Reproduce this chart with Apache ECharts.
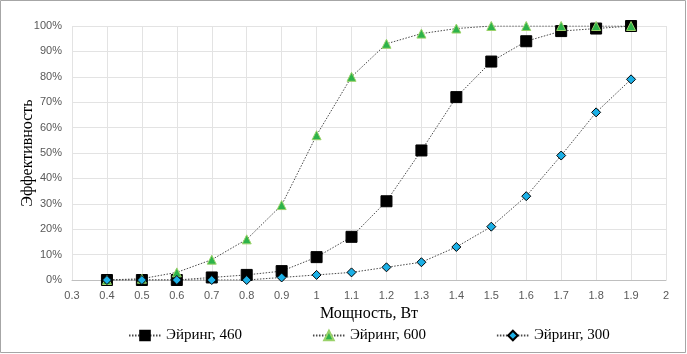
<!DOCTYPE html>
<html>
<head>
<meta charset="utf-8">
<script src="https://cdn.jsdelivr.net/npm/echarts@6/dist/echarts.min.js"></script>
<style>
  html, body { margin: 0; padding: 0; background: #fff; }
  #main { width: 687px; height: 354px; }
</style>
</head>
<body>
<div id="main"></div>
<script>
// мощность, Вт
var power = [0.4, 0.5, 0.6, 0.7, 0.8, 0.9, 1.0, 1.1, 1.2, 1.3, 1.4, 1.5, 1.6, 1.7, 1.8, 1.9];
// эффективность, %
var eyring460 = [0, 0, 0, 1, 2, 3.5, 9, 17, 31, 51, 72, 86, 94, 98, 99, 100];
var eyring600 = [0, 0.5, 3, 8, 16, 29.5, 57, 80, 93, 97, 99, 100, 100, 100, 100, 100];
var eyring300 = [0, 0, 0, 0, 0, 1, 2, 3, 5, 7, 13, 21, 33, 49, 66, 79];
var seriesNames = ['Эйринг, 460', 'Эйринг, 600', 'Эйринг, 300'];

function pairs(xs, ys) {
  return xs.map(function (x, i) { return [x, ys[i]]; });
}

var lineStyle = { color: '#4a4a4a', width: 1, type: [1.5, 1.5] };
var serif = '"Liberation Serif", "DejaVu Serif", serif';

var myChart = echarts.init(document.getElementById('main'));
myChart.setOption({
  animation: false,
  graphic: [{
    type: 'rect',
    shape: { x: 0.5, y: 0.5, width: 685, height: 352 },
    style: { fill: 'none', stroke: '#a6a6a6', lineWidth: 1 }
  }],
  grid: { left: 72, right: 21, top: 26, bottom: 74 },
  xAxis: {
    type: 'value',
    min: 0.3,
    max: 2,
    interval: 0.1,
    name: 'Мощность, Вт',
    nameLocation: 'middle',
    nameGap: 26,
    nameMoveOverlap: false,
    nameTextStyle: { fontFamily: serif, fontSize: 16, color: '#000' },
    axisLine: { show: true, lineStyle: { color: '#bfbfbf' } },
    axisTick: { show: false },
    axisLabel: {
      color: '#595959', fontSize: 11, fontFamily: 'Liberation Sans', margin: 10,
      formatter: function (v) { return String(Math.round(v * 10) / 10); }
    },
    splitLine: { show: true, lineStyle: { color: '#e3e3e3' } }
  },
  yAxis: {
    type: 'value',
    min: 0,
    max: 100,
    interval: 10,
    name: 'Эффективность',
    nameLocation: 'middle',
    nameGap: 36,
    nameMoveOverlap: false,
    nameTextStyle: { fontFamily: serif, fontSize: 16, color: '#000' },
    axisLine: { show: false },
    axisTick: { show: false },
    axisLabel: { color: '#595959', fontSize: 11, fontFamily: 'Liberation Sans', formatter: '{value}%', margin: 10 },
    splitLine: { show: true, lineStyle: { color: '#e3e3e3' } }
  },
  legend: {
    bottom: 6,
    left: 123,
    itemWidth: 32,
    itemHeight: 12,
    itemGap: 70,
    textStyle: { fontFamily: serif, fontSize: 15, color: '#000' },
    data: seriesNames
  },
  series: [
    {
      name: seriesNames[0], type: 'line', data: pairs(power, eyring460),
      symbol: 'rect', symbolSize: 11,
      itemStyle: { color: '#000', borderColor: '#000', borderWidth: 1 },
      lineStyle: lineStyle
    },
    {
      name: seriesNames[1], type: 'line', data: pairs(power, eyring600),
      symbol: 'triangle', symbolSize: 9,
      itemStyle: { color: '#2db34a', borderColor: '#9ad26a', borderWidth: 1 },
      lineStyle: lineStyle
    },
    {
      name: seriesNames[2], type: 'line', data: pairs(power, eyring300),
      symbol: 'diamond', symbolSize: 9,
      itemStyle: { color: '#1cb0e6', borderColor: '#000', borderWidth: 1 },
      lineStyle: lineStyle
    }
  ]
});
</script>
</body>
</html>
